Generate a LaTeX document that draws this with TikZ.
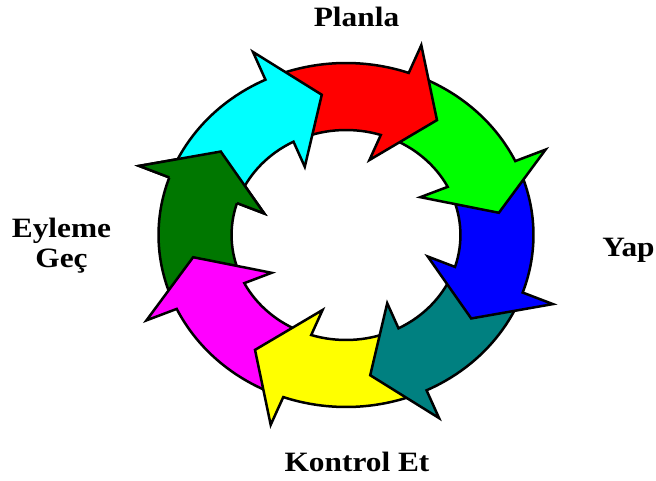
\documentclass[tikz,border=0pt]{standalone}
\usepackage{fontspec}
\setmainfont{Liberation Serif}
\newfontfamily\etiketfont[FakeStretch=1.12]{Liberation Serif}
\usepackage{tikz}
\usepackage{xcolor}

\definecolor{koyuyesil}{RGB}{0,119,0}
\definecolor{camgobegi}{RGB}{0,128,128}
\definecolor{turkuaz}{RGB}{0,255,255}
\definecolor{pembe}{RGB}{255,0,255}
\definecolor{sari}{RGB}{255,255,0}
\definecolor{kirmizi}{RGB}{255,0,0}
\definecolor{yesil}{RGB}{0,255,0}
\definecolor{mavi}{RGB}{0,0,255}

\begin{document}
\begin{tikzpicture}[x=1pt, y=1pt,
  etiket/.style={font=\etiketfont\bfseries\fontsize{28}{30}\selectfont, inner sep=0pt, anchor=base, align=center},
  ok/.style={draw=black, line width=2.5pt, line join=miter}]
\useasboundingbox (0,0) rectangle (656,480);
\begin{scope}[shift={(346,245)}, xscale=1.09]
\foreach \t/\renk in {144/koyuyesil, -171/pembe, -126/sari, -81/camgobegi, -36/mavi, 9/yesil, 54/kirmizi, 99/turkuaz}{
  \filldraw[ok, fill=\renk] (\t+59:172) arc[start angle=\t+59, end angle=\t+16.45, radius=172]
    -- (\t+16:202) -- (\t:142) -- (\t+20:78) -- (\t+18.3:105)
    arc[start angle=\t+18.3, end angle=\t+59, radius=105] -- cycle;
}
% dark green head again, over the cyan tail
\fill[koyuyesil] (160.45:172) -- (160:202) -- (144:142) -- (164:78) -- (162.3:105) -- cycle;
\draw[ok] (160.45:172) -- (160:202) -- (144:142) -- (164:78) -- (162.3:105);
\end{scope}
\node[etiket] (planla) at (356.5,453) {Planla};
\node[etiket] (yap) at (628.5,223) {Yap};
\node[etiket] (kontrol) at (357,9) {Kontrol Et};
\node[etiket] (eyleme) at (61.5,212) {Eyleme\\Geç};
\end{tikzpicture}
\end{document}
